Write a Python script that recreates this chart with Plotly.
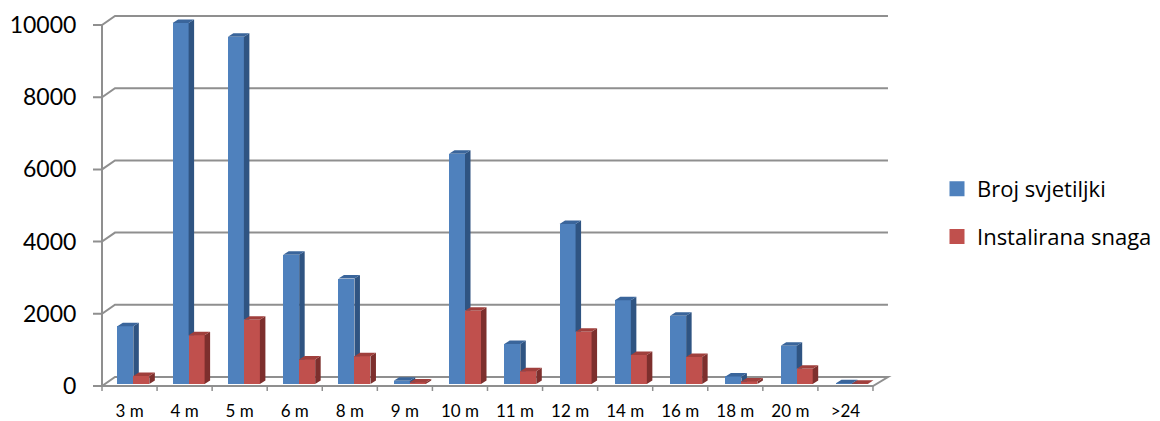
import plotly.graph_objects as go

categories = ["3 m", "4 m", "5 m", "6 m", "8 m", "9 m", "10 m", "11 m", "12 m", "14 m", "16 m", "18 m", "20 m", ">24"]
broj_svjetiljki = [1600, 10000, 9620, 3580, 2920, 90, 6380, 1110, 4430, 2320, 1890, 210, 1060, 20]
instalirana_snaga = [220, 1350, 1780, 680, 770, 40, 2030, 350, 1450, 800, 750, 70, 420, 10]
y_ticks = [0, 2000, 4000, 6000, 8000, 10000]

W, H = 1160, 421
L, R, T, B = 90, 892, 10, 395      # plot area in pixels
X0, TICK_W = 102, 55.07            # front-left corner, front-edge tick spacing
CW = 55.28                         # bar spacing (bars sit slightly deeper than the front edge)
PX0 = X0 + TICK_W / 2              # pixel of the first category's centre
PY0, PY_PER_UNIT = 386, 361 / 10000
DX, DY = 13, 9                     # wall depth in pixels
BX, BY = 5.5, 3.5                  # bar depth in pixels


def dx(px):
    return px / CW


def dy(px):
    return px / PY_PER_UNIT


n = len(categories)
x_range = [(L - PX0) / CW, (R - PX0) / CW]
y_range = [(PY0 - B) / PY_PER_UNIT, (PY0 - T) / PY_PER_UNIT]
pitch = TICK_W / CW
left_edge = -0.5 * pitch
right_edge = left_edge + n * pitch
tick_edge = left_edge - dx(9)
base = dy(2)
bar_w = 16 / CW
off_blue = -12.2 / CW
off_red = off_blue + bar_w
x = list(range(n))
label_x = [i * pitch for i in x]

GRID = "#8F8F8F"
shapes = []
line = dict(color=GRID, width=2)
for v in y_ticks:
    if v == 0:
        continue
    shapes.append(dict(type="path", layer="below", xref="x", yref="y", line=line,
                       path=f"M{tick_edge},{v} L{left_edge},{v} L{left_edge + dx(DX)},{v + dy(DY)} L{right_edge + dx(DX + 2)},{v + dy(DY)}"))
# floor and left wall edge
shapes.append(dict(type="path", layer="below", xref="x", yref="y", line=line,
                   path=f"M{tick_edge},0 L{right_edge},0 L{right_edge + dx(DX + 2)},{dy(DY)} L{left_edge + dx(DX)},{dy(DY)} L{left_edge},0 Z"))
shapes.append(dict(type="line", layer="below", xref="x", yref="y", line=line,
                   x0=left_edge, x1=left_edge, y0=-dy(1), y1=10000))
for i in range(n + 1):
    xb = left_edge + i * pitch
    shapes.append(dict(type="line", layer="below", xref="x", yref="y", line=dict(color=GRID, width=1.5),
                       x0=xb, x1=xb, y0=0, y1=-dy(5)))


def side_and_top(values, offset, lower):
    sx, sy, tx, ty = [], [], [], []
    for i, v in enumerate(values):
        xl = i + offset
        xr = xl + bar_w
        top = base + v
        low = base + lower[i]
        if top > low:
            sx += [xr, xr + dx(BX), xr + dx(BX), xr, xr, None]
            sy += [top, top + dy(BY), max(low, base) + dy(BY) * (lower[i] == 0), low, top, None]
        tx += [xl, xl + dx(BX), xr + dx(BX), xr, xl, None]
        ty += [top, top + dy(BY), top + dy(BY), top, top, None]
    return sx, sy, tx, ty


fig = go.Figure()
fig.add_bar(x=x, y=broj_svjetiljki, base=base, width=bar_w, offset=off_blue, name="Broj svjetiljki",
            marker=dict(color="#4F81BD", line=dict(width=0)), showlegend=False)
fig.add_bar(x=x, y=instalirana_snaga, base=base, width=bar_w, offset=off_red, name="Instalirana snaga",
            marker=dict(color="#C0504D", line=dict(width=0)), showlegend=False)

faces = [
    (broj_svjetiljki, off_blue, instalirana_snaga, "#2F5482", "#3A659B"),
    (instalirana_snaga, off_red, [0] * n, "#7D2F2D", "#A03F3C"),
]
for values, offset, lower, side_color, top_color in faces:
    sx, sy, tx, ty = side_and_top(values, offset, lower)
    for fx, fy, color in ((sx, sy, side_color), (tx, ty, top_color)):
        fig.add_scatter(x=fx, y=fy, mode="lines", fill="toself", fillcolor=color,
                        line=dict(width=0, color=color), showlegend=False, hoverinfo="skip")

# legend keys (no marks of their own; a heavier outline gives the reference's key size)
for name, color, group in (("Broj svjetiljki", "#4F81BD", "a"), ("Instalirana snaga", "#C0504D", "b")):
    fig.add_bar(x=[None], y=[None], name=name, legendgroup=group,
                marker=dict(color=color, line=dict(color=color, width=3)))

fig.update_layout(
    width=W, height=H,
    margin=dict(l=L, r=W - R, t=T, b=H - B, autoexpand=False),
    paper_bgcolor="white", plot_bgcolor="rgba(0,0,0,0)",
    barmode="overlay", bargap=0,
    shapes=shapes,
    font=dict(family="Lato", color="black"),
    legend=dict(x=(937 - L) / (R - L), y=(B - 168) / (B - T), xanchor="left", yanchor="top",
                font=dict(size=22, family="Open Sans"), tracegroupgap=16, bgcolor="rgba(0,0,0,0)", itemsizing="trace"),
    xaxis=dict(range=x_range, tickmode="array", tickvals=label_x, ticktext=categories, showgrid=False, zeroline=False,
               showline=False, ticks="outside", ticklen=1, tickcolor="rgba(0,0,0,0)", tickfont=dict(size=17)),
    yaxis=dict(range=y_range, tickmode="array", tickvals=y_ticks, showgrid=False, zeroline=False, showline=False,
               ticks="outside", ticklen=8, tickcolor="rgba(0,0,0,0)", tickformat="d", tickfont=dict(size=23)),
)
fig.write_html("out.html", config=dict(displayModeBar=False), post_script="document.body.style.margin='0';")
